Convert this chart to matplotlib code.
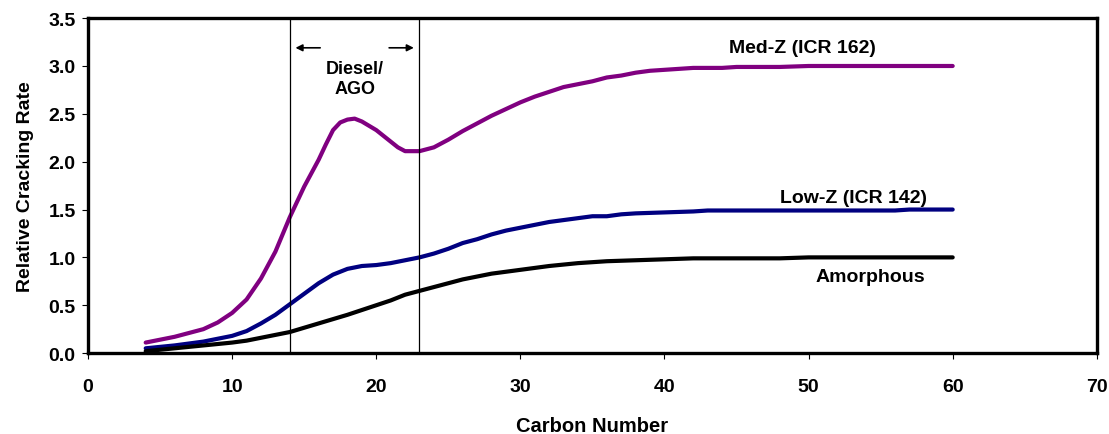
import numpy as np
import matplotlib
matplotlib.use("Agg")
import matplotlib.pyplot as plt

plt.rcParams["font.family"] = ["Liberation Sans", "DejaVu Sans"]
plt.rcParams["font.weight"] = "bold"

# Data
med_x = [4, 6, 8, 9, 10, 11, 12, 13, 14, 15, 16, 16.5, 17, 17.5, 18, 18.5, 19,
         20, 21, 21.5, 22, 23, 24, 25, 26, 27, 28, 29, 30, 31, 32, 33, 34, 35,
         36, 37, 38, 39, 40, 42, 44, 45, 48, 50, 60]
med_y = [0.11, 0.17, 0.25, 0.32, 0.42, 0.56, 0.78, 1.06, 1.42, 1.74, 2.02, 2.18,
         2.33, 2.41, 2.44, 2.45, 2.42, 2.33, 2.21, 2.15, 2.11, 2.11, 2.15, 2.23,
         2.32, 2.40, 2.48, 2.55, 2.62, 2.68, 2.73, 2.78, 2.81, 2.84, 2.88, 2.90,
         2.93, 2.95, 2.96, 2.98, 2.98, 2.99, 2.99, 3.00, 3.00]

low_x = [4, 6, 8, 10, 11, 12, 13, 14, 15, 16, 17, 18, 19, 20, 21, 22, 23, 24,
         25, 26, 27, 28, 29, 30, 31, 32, 33, 34, 35, 36, 37, 38, 40, 42, 43, 56,
         57, 60]
low_y = [0.05, 0.08, 0.12, 0.18, 0.23, 0.31, 0.40, 0.51, 0.62, 0.73, 0.82, 0.88,
         0.91, 0.92, 0.94, 0.97, 1.00, 1.04, 1.09, 1.15, 1.19, 1.24, 1.28, 1.31,
         1.34, 1.37, 1.39, 1.41, 1.43, 1.43, 1.45, 1.46, 1.47, 1.48, 1.49, 1.49,
         1.50, 1.50]

amo_x = [4, 6, 8, 10, 11, 12, 14, 16, 18, 20, 21, 22, 23, 24, 26, 28, 30, 32,
         34, 35, 36, 38, 40, 42, 48, 50, 60]
amo_y = [0.02, 0.05, 0.08, 0.11, 0.13, 0.16, 0.22, 0.31, 0.40, 0.50, 0.55, 0.61,
         0.65, 0.69, 0.77, 0.83, 0.87, 0.91, 0.94, 0.95, 0.96, 0.97, 0.98, 0.99,
         0.99, 1.00, 1.00]

diesel_lo = 14
diesel_hi = 23

fig = plt.figure(figsize=(11.09, 4.35), dpi=100)
ax = fig.add_axes([0.0794, 0.186, 0.9096, 0.770])

ax.plot(med_x, med_y, color="#800080", lw=3, solid_capstyle="round",
        solid_joinstyle="round")
ax.plot(low_x, low_y, color="#000080", lw=3, solid_capstyle="round",
        solid_joinstyle="round")
ax.plot(amo_x, amo_y, color="black", lw=3, solid_capstyle="round",
        solid_joinstyle="round")

ax.axvline(diesel_lo, color="black", lw=0.9)
ax.axvline(diesel_hi, color="black", lw=0.9)

# Diesel/AGO range arrows
ax.annotate("", xy=(14.2, 3.19), xytext=(16.3, 3.19),
            arrowprops=dict(arrowstyle="-|>", color="black", lw=1.2,
                            mutation_scale=10))
ax.annotate("", xy=(22.8, 3.19), xytext=(20.7, 3.19),
            arrowprops=dict(arrowstyle="-|>", color="black", lw=1.2,
                            mutation_scale=10))
ax.text(18.5, 2.87, "Diesel/\nAGO", ha="center", va="center", fontsize=13,
        fontweight="bold", linespacing=1.25)

ax.text(49.6, 3.19, "Med-Z (ICR 162)", ha="center", va="center", fontsize=14,
        fontweight="bold")
ax.text(53.1, 1.63, "Low-Z (ICR 142)", ha="center", va="center", fontsize=14,
        fontweight="bold")
ax.text(54.3, 0.80, "Amorphous", ha="center", va="center", fontsize=14,
        fontweight="bold")

ax.set_xlim(0, 70)
ax.set_ylim(0, 3.5)
ax.set_xticks(np.arange(0, 71, 10))
ax.set_yticks(np.arange(0, 3.51, 0.5))
ax.set_yticklabels([f"{v:.1f}" for v in np.arange(0, 3.51, 0.5)])

for s in ax.spines.values():
    s.set_linewidth(2.4)
ax.tick_params(direction="out", length=4, width=0.8, labelsize=14)
ax.tick_params(axis="x", pad=14)
ax.tick_params(axis="y", pad=5)
for lbl in ax.get_xticklabels() + ax.get_yticklabels():
    lbl.set_fontweight("bold")

ax.set_xlabel("Carbon Number", fontsize=14.5, fontweight="bold", labelpad=15)
ax.set_ylabel("Relative Cracking Rate", fontsize=14, fontweight="bold",
              labelpad=10)

fig.savefig("out.png", dpi=100)
